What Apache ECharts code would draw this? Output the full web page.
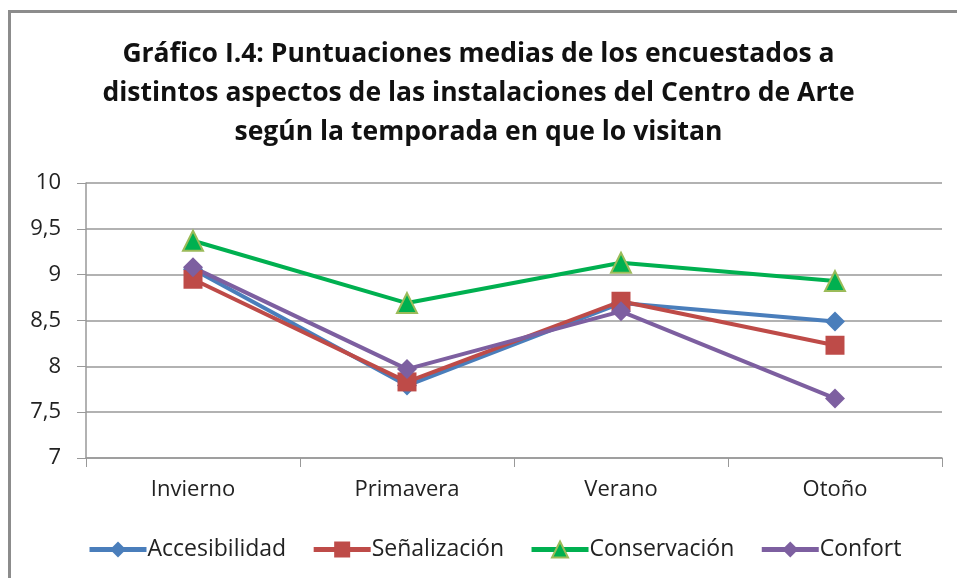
<!DOCTYPE html>
<html>
<head>
<meta charset="utf-8">
<script src="https://cdn.jsdelivr.net/npm/echarts@6/dist/echarts.min.js"></script>
<style>
  html, body { margin: 0; padding: 0; background: #fff; }
  #frame { position: absolute; left: 8px; top: 10px; width: 960px; height: 600px;
           border-left: 3px solid #8c8c8c; border-top: 3px solid #8c8c8c; }
  #ch-main { position: absolute; left: 0; top: 0; width: 957px; height: 578px; }
</style>
</head>
<body>
<div id="frame"></div>
<div id="ch-main"></div>
<script>
let temporadas = ['Invierno', 'Primavera', 'Verano', 'Otoño']
let accesibilidad = [9.06, 7.79, 8.69, 8.49]
let senalizacion = [8.95, 7.83, 8.71, 8.23]
let conservacion = [9.37, 8.69, 9.13, 8.93]
let confort = [9.08, 7.97, 8.60, 7.65]

let main = echarts.init(document.getElementById('ch-main'));
let font = 'Open Sans'

function serie(name, data, color, symbol, size, border) {
    return {
        name: name,
        type: 'line',
        data: data,
        symbol: symbol,
        symbolSize: size,
        lineStyle: { color: color, width: 4 },
        itemStyle: { color: color, borderColor: border || color, borderWidth: border ? 2 : 0 },
        emphasis: { disabled: true }
    }
}

let option = {
    animation: false,
    title: {
        text: 'Gráfico I.4: Puntuaciones medias de los encuestados a\ndistintos aspectos de las instalaciones del Centro de Arte\nsegún la temporada en que lo visitan',
        left: 'center',
        top: 30,
        textStyle: { fontFamily: font, fontSize: 26.5, fontWeight: 'bold', color: '#111', lineHeight: 39 }
    },
    legend: {
        bottom: 12,
        left: 82,
        itemWidth: 57,
        itemHeight: 20,
        itemGap: 25,
        lineStyle: { width: 5 },
        textStyle: { fontFamily: font, fontSize: 23, color: '#222', padding: [0, 0, 0, -4] },
        data: ['Accesibilidad', 'Señalización', 'Conservación', 'Confort']
    },
    grid: { left: 86, right: 15, top: 183, bottom: 120 },
    xAxis: {
        type: 'category',
        data: temporadas,
        boundaryGap: true,
        axisLine: { lineStyle: { color: '#999', width: 1.5 } },
        axisTick: { show: true, length: 9, inside: false, lineStyle: { color: '#999' } },
        axisLabel: { fontFamily: font, fontSize: 22, color: '#222', margin: 21 }
    },
    yAxis: {
        type: 'value',
        min: 7,
        max: 10,
        interval: 0.5,
        axisLine: { show: true, lineStyle: { color: '#999', width: 1.5 } },
        axisTick: { show: true, length: 9, lineStyle: { color: '#999' } },
        splitLine: { lineStyle: { color: '#999', width: 1.5 } },
        axisLabel: {
            fontFamily: font, fontSize: 22, color: '#222', margin: 25,
            formatter: function (v) { return String(v).replace('.', ',') }
        }
    },
    series: [
        serie('Accesibilidad', accesibilidad, '#4a7ebb', 'diamond', 20),
        serie('Señalización', senalizacion, '#be4b48', 'rect', 19),
        serie('Conservación', conservacion, '#00b050', 'triangle', 20, '#9bbb59'),
        serie('Confort', confort, '#7d5fa0', 'diamond', 20)
    ]
};

main.setOption(option);
</script>
</body>
</html>
